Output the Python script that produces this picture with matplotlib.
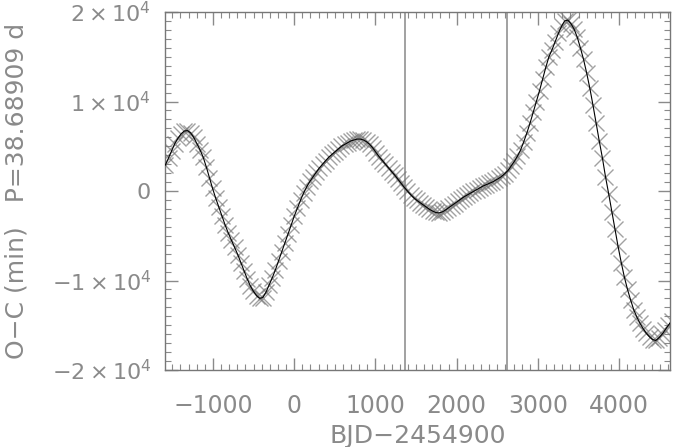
import matplotlib
matplotlib.use("Agg")
import matplotlib.pyplot as plt
from matplotlib.ticker import MultipleLocator, FuncFormatter

# ── Data ──────────────────────────────────────────────────────────────────────
# transit times (BJD-2454900), one per epoch, P = 38.68909 d
t_obs = [-1585, -1546, -1507, -1469, -1430, -1391, -1353, -1314, -1275, -1237,
         -1198, -1159, -1121, -1082, -1043, -1005, -966, -927, -888, -850,
         -811, -772, -734, -695, -656, -618, -579, -540, -502, -463,
         -424, -386, -347, -308, -270, -231, -192, -153, -115, -76,
         -37, 1, 40, 79, 117, 156, 195, 233, 272, 311,
         349, 388, 427, 466, 504, 543, 582, 620, 659, 698,
         736, 775, 814, 852, 891, 930, 968, 1007, 1046, 1085,
         1123, 1162, 1201, 1239, 1278, 1317, 1355, 1394, 1433, 1471,
         1510, 1549, 1587, 1626, 1665, 1704, 1742, 1781, 1820, 1858,
         1897, 1936, 1974, 2013, 2052, 2090, 2129, 2168, 2206, 2245,
         2284, 2323, 2361, 2400, 2439, 2477, 2516, 2555, 2593, 2632,
         2671, 2709, 2748, 2787, 2825, 2864, 2903, 2942, 2980, 3019,
         3058, 3096, 3135, 3174, 3212, 3251, 3290, 3328, 3367, 3406,
         3444, 3483, 3522, 3561, 3599, 3638, 3677, 3715, 3754, 3793,
         3831, 3870, 3909, 3947, 3986, 4025, 4063, 4102, 4141, 4180,
         4218, 4257, 4296, 4334, 4373, 4412, 4450, 4489, 4528, 4566,
         4605, 4644]

# O-C in minutes
oc_min = [2900, 3700, 4500, 5300, 5900, 6400, 6700, 6750, 6500, 6000,
          5300, 4600, 3800, 2700, 1500, 300, -800, -1800, -2800, -3800,
          -4700, -5500, -6300, -7100, -8000, -8900, -9800, -10600, -11200, -11700,
          -12000, -11900, -11300, -10500, -9700, -8800, -7800, -6800, -5800, -4800,
          -3800, -2800, -1900, -1000, -200, 500, 1100, 1600, 2100, 2600,
          3000, 3400, 3800, 4100, 4400, 4700, 5000, 5200, 5400, 5600,
          5700, 5800, 5800, 5700, 5500, 5200, 4800, 4300, 3830, 3400,
          2990, 2570, 2150, 1750, 1300, 850, 400, 0, -400, -750,
          -1050, -1300, -1550, -1800, -2050, -2250, -2400, -2450, -2350, -2150,
          -1900, -1650, -1400, -1150, -900, -650, -450, -250, -50, 150,
          350, 550, 700, 850, 1000, 1200, 1400, 1650, 1950, 2300,
          2800, 3300, 3900, 4600, 5500, 6500, 7600, 8800, 10000, 11200,
          12500, 13800, 15000, 15800, 16700, 17600, 18400, 19000, 19100, 18700,
          18100, 17200, 16000, 14700, 13200, 11500, 9600, 7600, 5600, 3700,
          1600, -300, -2300, -4300, -6200, -8000, -9600, -11000, -12200, -13300,
          -14100, -14800, -15400, -15900, -16300, -16600, -16700, -16400, -16000, -15500,
          -15000, -14500]

# vertical markers
vlines = [1362, 2622]

xlim = (-1590, 4625)
ylim = (-20000, 20000)

# ── Plot ───────────────────────────────────────────────────────────────────────
plt.rcParams['mathtext.fontset'] = 'dejavusans'
grey = '#8a8a8a'

fig = plt.figure(figsize=(6.73, 4.47), dpi=100)
ax = fig.add_axes([165 / 673, 1 - 370 / 447, 505 / 673, 358 / 447])

ax.plot(t_obs, oc_min, color='black', lw=0.8, zorder=3)
ax.plot(t_obs, oc_min, ls='none', marker='x', ms=11.5, mew=1.0,
        color='#7a7a7a', alpha=0.7, zorder=2)
for v in vlines:
    ax.axvline(v, color='#9a9a9a', lw=1.3, zorder=1)

ax.set_xlim(*xlim)
ax.set_ylim(*ylim)

ax.xaxis.set_major_locator(MultipleLocator(1000))
ax.xaxis.set_minor_locator(MultipleLocator(100))
ax.yaxis.set_major_locator(MultipleLocator(10000))
ax.yaxis.set_minor_locator(MultipleLocator(1000))


def sci(v, pos):
    if abs(v) < 1:
        return '0'
    m = int(round(v / 1e4))
    return r'$%s\times10^{4}$' % ('\u2212%d' % abs(m) if m < 0 else '%d' % m)


ax.yaxis.set_major_formatter(FuncFormatter(sci))
ax.xaxis.set_major_formatter(FuncFormatter(
    lambda v, p: ('\u2212%d' % abs(v)) if v < 0 else '%d' % v))

ax.tick_params(which='both', direction='in', top=True, right=True,
               color=grey, labelcolor=grey)
ax.tick_params(which='major', length=9, width=1)
ax.tick_params(which='minor', length=4, width=0.8)
ax.tick_params(axis='x', pad=17, labelsize=17)
ax.tick_params(axis='y', pad=10, labelsize=16)

for s in ax.spines.values():
    s.set_color('#777777')
    s.set_linewidth(1.0)

ax.set_xlabel('BJD\u22122454900', color=grey, fontsize=18)
ax.xaxis.set_label_coords(0.5, -0.152)
ax.set_ylabel('O\u2212C (min)   P=38.68909 d', color=grey, fontsize=18)
ax.yaxis.set_label_coords(-0.27, 0.5)

fig.savefig('out.png', dpi=100)
